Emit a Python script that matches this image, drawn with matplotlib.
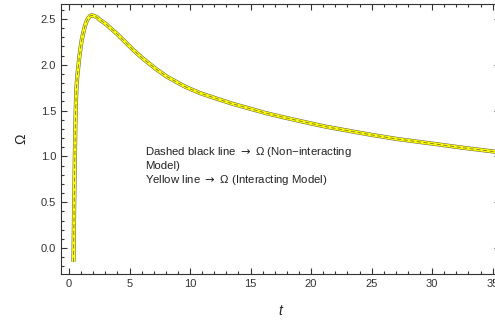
import matplotlib
matplotlib.use("Agg")
import matplotlib.pyplot as plt
from matplotlib.ticker import MultipleLocator

plt.rcParams['font.family'] = ['Liberation Sans', 'DejaVu Sans']

t_vals = [0.37, 0.40, 0.42, 0.45, 0.47, 0.50, 0.52, 0.55, 0.58, 0.62, 0.67, 0.72, 0.77,
          0.85, 0.95, 1.05, 1.2, 1.33, 1.47, 1.6, 1.75, 1.88, 2.05, 2.3, 2.57, 3.0,
          3.95, 4.64, 5.33, 6.0, 7.13, 8.09, 9.61, 10.85, 12.1, 13.5, 14.86, 16.2,
          17.62, 19.3, 21.2, 23.5, 25.0, 27.1, 30.0, 32.5, 35.3]
omega_vals = [-0.15, 0.20, 0.40, 0.66, 0.88, 1.12, 1.30, 1.48, 1.62, 1.75, 1.85, 1.92, 1.98,
              2.08, 2.18, 2.27, 2.36, 2.43, 2.48, 2.51, 2.535, 2.54, 2.535, 2.52, 2.49, 2.45,
              2.34, 2.25, 2.16, 2.08, 1.96, 1.87, 1.76, 1.69, 1.635, 1.575, 1.525, 1.475,
              1.43, 1.38, 1.325, 1.27, 1.235, 1.19, 1.14, 1.095, 1.05]

x_ticks = [0, 5, 10, 15, 20, 25, 30, 35]
y_ticks = [0.0, 0.5, 1.0, 1.5, 2.0, 2.5]

fig = plt.figure(figsize=(4.95, 3.27), dpi=100)
ax = fig.add_axes([61/495, 1-274/327, 1-61/495 + 0.01, (274-4)/327])

ax.plot(t_vals, omega_vals, color='#6b6b4a', lw=3.0, solid_capstyle='butt')
ax.plot(t_vals, omega_vals, color='#ffff00', lw=2.2, solid_capstyle='butt')
ax.plot(t_vals, omega_vals, color='#555555', lw=0.6, dashes=(5, 3), alpha=0.8)

ax.set_xlim(-0.66, 35.6)
ax.set_ylim(-0.284, 2.664)
ax.set_xticks(x_ticks)
ax.set_yticks(y_ticks)
ax.set_yticklabels([f"{v:.1f}" for v in y_ticks])
ax.xaxis.set_minor_locator(MultipleLocator(1))
ax.yaxis.set_minor_locator(MultipleLocator(0.1))
ax.tick_params(which='both', direction='in', top=True, right=True, colors='#333333',
               labelcolor='#333333', labelsize=8, width=0.8)
ax.tick_params(which='major', length=4.5)
ax.tick_params(which='minor', length=2.5)
for s in ax.spines.values():
    s.set_color('#333333')
    s.set_linewidth(0.8)

ax.set_xlabel('t', fontsize=10, style='italic', color='#222222', labelpad=11)
ax.set_ylabel('Ω', fontsize=10, color='#222222', labelpad=9)

ax.text(6.3, 1.125, "Dashed black line $\\rightarrow$ \u03a9 (Non\u2212interacting\nModel)\nYellow line $\\rightarrow$ \u03a9 (Interacting Model)",
        fontsize=8.2, color='#222222', va='top', ha='left', linespacing=1.2)

fig.savefig('out.png', dpi=100)
